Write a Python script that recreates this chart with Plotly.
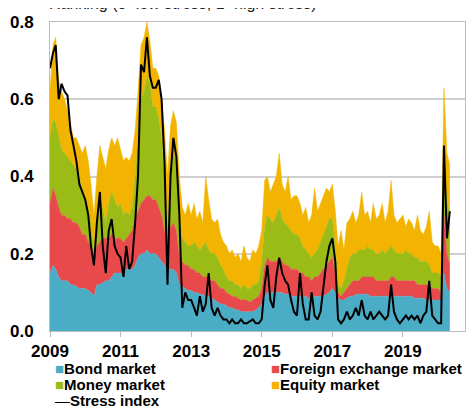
import pandas as pd
import plotly.graph_objects as go

# monthly readings, Jan 2009 - May 2020
dates = pd.date_range("2009-01-01", "2020-05-01", freq="MS")

bond = [
    0.15, 0.17, 0.16, 0.14, 0.13, 0.13, 0.13, 0.12, 0.12, 0.115, 0.11, 0.11,
    0.11, 0.105, 0.10, 0.09, 0.12, 0.12, 0.125, 0.13, 0.13, 0.14, 0.15, 0.15,
    0.15, 0.15, 0.16, 0.16, 0.16, 0.17, 0.19, 0.20, 0.20, 0.21, 0.20, 0.20,
    0.20, 0.19, 0.18, 0.17, 0.16, 0.16, 0.16, 0.15, 0.12, 0.115, 0.11, 0.105,
    0.105, 0.10, 0.10, 0.095, 0.095, 0.09, 0.09, 0.085, 0.08, 0.075, 0.07, 0.07,
    0.065, 0.06, 0.06, 0.055, 0.055, 0.05, 0.05, 0.05, 0.05, 0.05, 0.055, 0.06,
    0.07, 0.09, 0.10, 0.10, 0.10, 0.10, 0.10, 0.10, 0.095, 0.095, 0.09, 0.09,
    0.09, 0.09, 0.09, 0.09, 0.085, 0.085, 0.09, 0.09, 0.09, 0.09, 0.095, 0.10,
    0.11, 0.10, 0.085, 0.08, 0.08, 0.085, 0.09, 0.09, 0.095, 0.095, 0.095, 0.095,
    0.095, 0.09, 0.09, 0.09, 0.09, 0.09, 0.09, 0.09, 0.09, 0.09, 0.09, 0.09,
    0.09, 0.09, 0.09, 0.09, 0.085, 0.085, 0.085, 0.085, 0.08, 0.08, 0.08, 0.08,
    0.08, 0.08, 0.15, 0.11, 0.10,
]
fx = [
    0.18, 0.20, 0.19, 0.18, 0.17, 0.17, 0.16, 0.17, 0.16, 0.165, 0.16, 0.14,
    0.14, 0.125, 0.12, 0.10, 0.10, 0.11, 0.115, 0.11, 0.11, 0.11, 0.09, 0.09,
    0.09, 0.08, 0.08, 0.09, 0.10, 0.12, 0.12, 0.13, 0.14, 0.14, 0.15, 0.14,
    0.14, 0.13, 0.12, 0.09, 0.06, 0.11, 0.12, 0.11, 0.07, 0.065, 0.06, 0.065,
    0.055, 0.06, 0.05, 0.055, 0.045, 0.05, 0.05, 0.045, 0.05, 0.045, 0.04, 0.04,
    0.035, 0.035, 0.03, 0.035, 0.03, 0.03, 0.03, 0.03, 0.025, 0.03, 0.03, 0.03,
    0.04, 0.08, 0.09, 0.08, 0.08, 0.08, 0.09, 0.08, 0.075, 0.075, 0.07, 0.07,
    0.07, 0.06, 0.06, 0.05, 0.055, 0.045, 0.05, 0.05, 0.06, 0.07, 0.075, 0.08,
    0.08, 0.05, 0.015, 0.01, 0.02, 0.025, 0.03, 0.04, 0.035, 0.035, 0.045, 0.045,
    0.045, 0.05, 0.05, 0.04, 0.04, 0.04, 0.04, 0.04, 0.05, 0.05, 0.04, 0.04,
    0.04, 0.04, 0.04, 0.04, 0.045, 0.035, 0.035, 0.035, 0.04, 0.04, 0.03, 0.03,
    0.03, 0.02, 0.15, 0.09, 0.07,
]
money = [
    0.17, 0.18, 0.19, 0.18, 0.17, 0.16, 0.16, 0.15, 0.15, 0.14, 0.13, 0.11,
    0.09, 0.09, 0.06, 0.02, 0.06, 0.11, 0.08, 0.04, 0.09, 0.11, 0.10, 0.08,
    0.09, 0.07, 0.07, 0.05, 0.06, 0.11, 0.19, 0.27, 0.28, 0.31, 0.29, 0.24,
    0.24, 0.23, 0.20, 0.14, 0.02, 0.15, 0.18, 0.18, 0.09, 0.06, 0.06, 0.05,
    0.06, 0.07, 0.07, 0.06, 0.08, 0.09, 0.07, 0.07, 0.07, 0.07, 0.06, 0.05,
    0.04, 0.035, 0.04, 0.03, 0.035, 0.03, 0.04, 0.03, 0.035, 0.04, 0.035, 0.04,
    0.07, 0.10, 0.11, 0.11, 0.10, 0.12, 0.13, 0.11, 0.11, 0.10, 0.10, 0.09,
    0.09, 0.09, 0.07, 0.07, 0.06, 0.06, 0.06, 0.07, 0.08, 0.09, 0.10, 0.11,
    0.10, 0.07, 0.02, 0.02, 0.03, 0.05, 0.07, 0.07, 0.07, 0.08, 0.07, 0.07,
    0.08, 0.07, 0.07, 0.07, 0.07, 0.08, 0.07, 0.08, 0.08, 0.07, 0.07, 0.07,
    0.07, 0.08, 0.07, 0.07, 0.06, 0.07, 0.06, 0.06, 0.06, 0.05, 0.04, 0.04,
    0.04, 0.04, 0.11, 0.13, 0.14,
]
equity = [
    0.12, 0.19, 0.22, 0.15, 0.15, 0.14, 0.12, 0.09, 0.07, 0.08, 0.08, 0.10,
    0.14, 0.12, 0.10, 0.09, 0.12, 0.14, 0.13, 0.14, 0.14, 0.14, 0.14, 0.18,
    0.14, 0.14, 0.14, 0.14, 0.14, 0.12, 0.12, 0.14, 0.14, 0.14, 0.11, 0.10,
    0.10, 0.11, 0.10, 0.12, 0.16, 0.11, 0.11, 0.10, 0.12, 0.08, 0.07, 0.11,
    0.08, 0.10, 0.07, 0.10, 0.06, 0.17, 0.13, 0.09, 0.08, 0.10, 0.08, 0.07,
    0.08, 0.07, 0.08, 0.07, 0.08, 0.07, 0.10, 0.08, 0.07, 0.09, 0.08, 0.09,
    0.08, 0.12, 0.10, 0.07, 0.10, 0.10, 0.14, 0.09, 0.08, 0.13, 0.08, 0.10,
    0.10, 0.09, 0.08, 0.11, 0.08, 0.11, 0.17, 0.10, 0.10, 0.10, 0.10, 0.07,
    0.09, 0.09, 0.10, 0.15, 0.08, 0.12, 0.10, 0.11, 0.08, 0.09, 0.15, 0.09,
    0.09, 0.07, 0.12, 0.09, 0.10, 0.12, 0.08, 0.10, 0.17, 0.09, 0.08, 0.09,
    0.10, 0.06, 0.09, 0.08, 0.07, 0.11, 0.08, 0.07, 0.09, 0.14, 0.08, 0.07,
    0.07, 0.06, 0.22, 0.13, 0.12,
]
stress = [
    0.68, 0.72, 0.74, 0.60, 0.64, 0.62, 0.61, 0.52, 0.48, 0.44, 0.38, 0.36,
    0.34, 0.30, 0.22, 0.17, 0.28, 0.36, 0.22, 0.15, 0.26, 0.29, 0.22, 0.20,
    0.19, 0.14, 0.22, 0.16, 0.18, 0.28, 0.40, 0.69, 0.67, 0.76, 0.66, 0.63,
    0.63, 0.65, 0.60, 0.43, 0.12, 0.40, 0.50, 0.45, 0.30, 0.06, 0.10, 0.08,
    0.08, 0.06, 0.04, 0.09, 0.05, 0.07, 0.15, 0.06, 0.04, 0.06, 0.04, 0.03,
    0.03, 0.02, 0.03, 0.02, 0.02, 0.03, 0.02, 0.02, 0.025, 0.03, 0.02, 0.02,
    0.03, 0.12, 0.17, 0.08, 0.06, 0.14, 0.19, 0.15, 0.13, 0.12, 0.08, 0.05,
    0.04, 0.15, 0.07, 0.03, 0.03, 0.10, 0.04, 0.03, 0.05, 0.11, 0.18, 0.22,
    0.24, 0.18, 0.03, 0.02, 0.03, 0.05, 0.03, 0.04, 0.06, 0.04, 0.08, 0.04,
    0.03, 0.05, 0.03, 0.04, 0.05, 0.04, 0.03, 0.04, 0.12, 0.05, 0.03, 0.02,
    0.03, 0.04, 0.03, 0.04, 0.03, 0.04, 0.02, 0.04, 0.05, 0.13, 0.04, 0.03,
    0.02, 0.02, 0.48, 0.24, 0.31,
]

tick_years = ["2009", "2011", "2013", "2015", "2017", "2019"]

areas = [
    ("Bond market", bond, "#4BACC6"),
    ("Foreign exchange market", fx, "#E84A4C"),
    ("Money market", money, "#9BBB17"),
    ("Equity market", equity, "#F2B400"),
]

FONT = "Liberation Sans, Arial, sans-serif"

fig = go.Figure()
for name, vals, col in areas:
    fig.add_trace(go.Scatter(
        x=dates, y=vals, name=name, stackgroup="one", mode="lines",
        line=dict(width=0.5, color=col), fillcolor=col, showlegend=False,
    ))
fig.add_trace(go.Scatter(
    x=dates, y=stress, name="Stress index", mode="lines",
    line=dict(color="black", width=2), showlegend=False,
))

# page body adds an 8px offset and the visible width ends near 466px,
# so the figure is narrower and the x range stops a little before 2021
fig.update_layout(
    width=458, height=398,
    margin=dict(l=42, r=1, t=14, b=75),
    plot_bgcolor="white", paper_bgcolor="white",
    font=dict(family=FONT, size=14, color="black"),
    xaxis=dict(
        type="date", range=["2009-01-01", "2020-10-05"],
        tickvals=[f"{y}-01-01" for y in tick_years], ticktext=tick_years,
        showgrid=False, showline=True, linecolor="#BDBDBD", linewidth=1,
        mirror=True, ticks="outside", ticklen=5, tickcolor="#BDBDBD",
        tickfont=dict(size=17, weight="bold"),
    ),
    yaxis=dict(
        range=[0, 0.8], dtick=0.2, tickformat=".1f",
        showgrid=True, gridcolor="#CFCFCF", gridwidth=1.5,
        showline=True, linecolor="#BDBDBD", linewidth=1, mirror=True,
        ticks="", ticklabelstandoff=12,
        tickfont=dict(size=17, weight="bold"), zeroline=False,
    ),
)

fig.add_annotation(
    text="Ranking (0=low stress, 1=high stress)", xref="paper", yref="paper",
    x=-0.008, y=1.06, xanchor="left", yanchor="middle", showarrow=False,
    font=dict(size=16, color="#222222"),
)

legend_items = [
    ("■", "#4BACC6", "Bond market", 0.008, -0.12),
    ("■", "#E84A4C", "Foreign exchange market", 0.528, -0.12),
    ("■", "#9BBB17", "Money market", 0.008, -0.172),
    ("■", "#F2B400", "Equity market", 0.528, -0.172),
    ("—", "black", "Stress index", 0.008, -0.224),
]
for sym, col, label, lx, ly in legend_items:
    fig.add_annotation(
        text=f"<span style='color:{col}'>{sym}</span><b>{label}</b>",
        xref="paper", yref="paper", x=lx, y=ly, xanchor="left",
        yanchor="middle", showarrow=False, font=dict(size=15, color="black"),
    )

fig.write_html("out.html")
